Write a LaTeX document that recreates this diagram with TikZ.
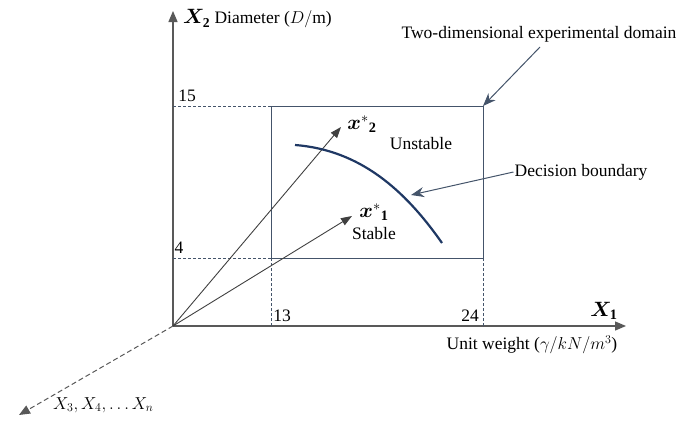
\documentclass[tikz,border=0pt]{standalone}
\usepackage{amsmath,bm}
\usepackage{fontspec}
\setmainfont{Liberation Serif}
\usetikzlibrary{arrows.meta,positioning}
\definecolor{axisgray}{HTML}{595959}
\definecolor{boxblue}{HTML}{44546A}
\definecolor{curveblue}{HTML}{1F3864}

\begin{document}
\begin{tikzpicture}[x=1pt,y=-1pt,
  axis/.style={draw=axisgray,line width=1.3pt,-{Triangle[length=11pt,width=9pt]}},
  guide/.style={draw=boxblue,dash pattern=on 3pt off 2pt,line width=0.7pt},
  vec/.style={draw=black!75,line width=0.9pt,-{Triangle[length=11pt,width=8pt]}},
  callout/.style={draw=boxblue,line width=1pt,-{Stealth[length=13pt,width=10pt]}},
  lbl/.style={inner sep=1pt,font=\fontsize{17.5}{20}\selectfont},
  sym/.style={inner sep=1pt,font=\fontsize{20.5}{23}\selectfont}]
  \useasboundingbox (0,0) rectangle (678,421);
  % axes
  \coordinate (O) at (173,326);
  \coordinate (Xend) at (626,326);
  \coordinate (Yend) at (173,11);
  \coordinate (Zend) at (19,415);
  \draw[axis] (O) -- (Xend);
  \draw[axis] (O) -- (Yend);
  \draw[axis,dash pattern=on 5pt off 3pt,line width=1pt] (O) -- (Zend);
  \node[lbl,anchor=west] (ylab) at (182,19) {\fontsize{19.5}{22}\selectfont$\bm{X}_{\mathbf{2}}$\fontsize{17.5}{20}\selectfont{} Diameter ($D/\mathrm{m}$)};
  \node[sym] (xlab) at (604,311) {$\bm{X}_{\mathbf{1}}$};
  \node[lbl] (xunit) at (532,345) {Unit weight ($\gamma/kN/m^3$)};
  \node[lbl,anchor=west] (zlab) at (52,405) {$X_3,X_4,\ldots X_n$};
  % experimental domain
  \coordinate (bl) at (271,258);
  \coordinate (tr) at (483,106);
  \draw[draw=boxblue,line width=1pt] (bl) rectangle (tr);
  \coordinate (y15) at (173,106);
  \coordinate (y4) at (173,258);
  \coordinate (x13) at (271,326);
  \coordinate (x24) at (483,326);
  \draw[guide] (y15) -- (tr |- y15);
  \draw[guide] (y4) -- (bl);
  \draw[guide] (x13) -- (bl);
  \draw[guide] (x24) -- (x24 |- bl);
  \foreach \n/\px/\py in {15/187/96, 4/179/248, 13/282/316, 24/470/316}
    \node[lbl] (tick\n) at (\px,\py) {\n};
  % points
  \coordinate (p2) at (341,127);
  \coordinate (p1) at (352,216);
  \draw[vec] (O) -- (p2);
  \draw[vec] (O) -- (p1);
  \node[sym] (x2) at (362,124) {$\bm{x}^{*}{}_{\mathbf{2}}$};
  \node[sym] (x1) at (374,212) {$\bm{x}^{*}{}_{\mathbf{1}}$};
  \node[lbl] (unst) at (421,144) {Unstable};
  \node[lbl] (stab) at (374,234) {Stable};
  % boundary
  \draw[curveblue,line width=2.2pt] (295,145) .. controls (360,150) and (405,190) .. (442,243);
  \coordinate (bnd) at (411,195);
  \node[lbl] (dec) at (581,172) {Decision boundary};
  \draw[callout] (dec.west) -- (bnd);
  \node[lbl] (dom) at (539,34) {Two-dimensional experimental domain};
  \coordinate (domfoot) at (540,47);
  \draw[callout] (domfoot) -- (tr);
\end{tikzpicture}
\end{document}
